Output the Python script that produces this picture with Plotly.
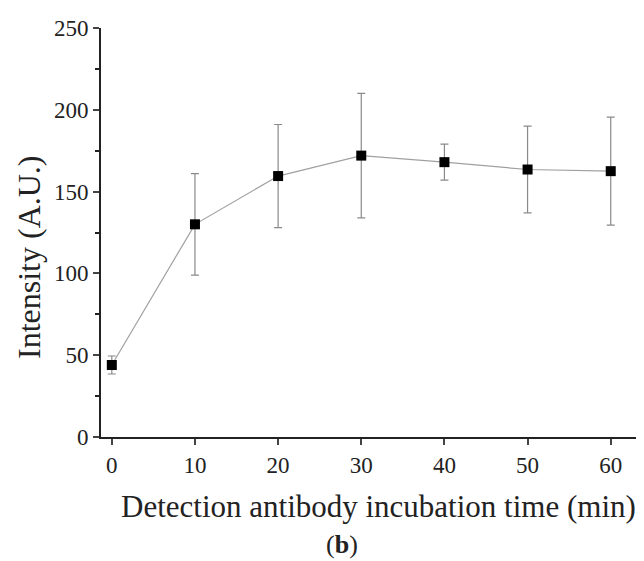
import plotly.graph_objects as go

times = [0, 10, 20, 30, 40, 50, 60]
intensity = [44, 130, 159.5, 172, 168, 163.5, 162.5]
err = [5.5, 31, 31.5, 38, 11, 26.5, 33]

# page body has an 8px margin; work in screenshot pixels and subtract it
OFF = 8
W, H = 644 - OFF, 561 - OFF
L, T, B = 101 - OFF, 28 - OFF, 124

fig = go.Figure()
fig.add_trace(go.Scatter(
    x=times, y=intensity, mode="lines+markers",
    line=dict(color="#a0a0a0", width=1.2),
    marker=dict(symbol="square", size=10, color="black"),
    error_y=dict(type="data", array=err, visible=True, color="#8a8a8a", thickness=1.2, width=4),
    showlegend=False,
))

font = "Liberation Serif, Times New Roman, serif"
pw, ph = W - L, H - T - B

def px(x):
    return (x - OFF - L) / pw

def py(y):
    return (H - (y - OFF) - B) / ph

fig.update_layout(
    width=W, height=H,
    margin=dict(l=L, r=0, t=T, b=B),
    paper_bgcolor="white", plot_bgcolor="white",
    font=dict(family=font, color="#222"),
    xaxis=dict(range=[-1.3, 64], tickvals=times, ticks="outside", ticklen=6, tickwidth=2,
               showline=True, linecolor="#222", linewidth=2, showgrid=False, zeroline=False,
               tickfont=dict(size=23, family=font, color="#222")),
    yaxis=dict(range=[0, 250], tickvals=[0, 50, 100, 150, 200, 250], ticks="outside", ticklen=6, tickwidth=2,
               showline=True, linecolor="#222", linewidth=2, showgrid=False, zeroline=False,
               tickfont=dict(size=23, family=font, color="#222"),
               minor=dict(tickvals=[25, 75, 125, 175, 225], ticks="outside", ticklen=4, tickwidth=1.5, tickcolor="#222")),
    annotations=[
        dict(text="Detection antibody incubation time (min)", x=px(378), y=py(506), xref="paper", yref="paper",
             xanchor="center", yanchor="middle",
             showarrow=False, font=dict(size=31, family=font, color="#222")),
        dict(text="(<b>b</b>)", x=px(342), y=py(544), xref="paper", yref="paper",
             xanchor="center", yanchor="middle",
             showarrow=False, font=dict(size=26, family=font, color="#222")),
        dict(text="Intensity (A.U.)", x=px(29), y=py(257), xref="paper", yref="paper", textangle=-90,
             xanchor="center", yanchor="middle",
             showarrow=False, font=dict(size=32, family=font, color="#222")),
    ],
)
fig.write_html("out.html")
